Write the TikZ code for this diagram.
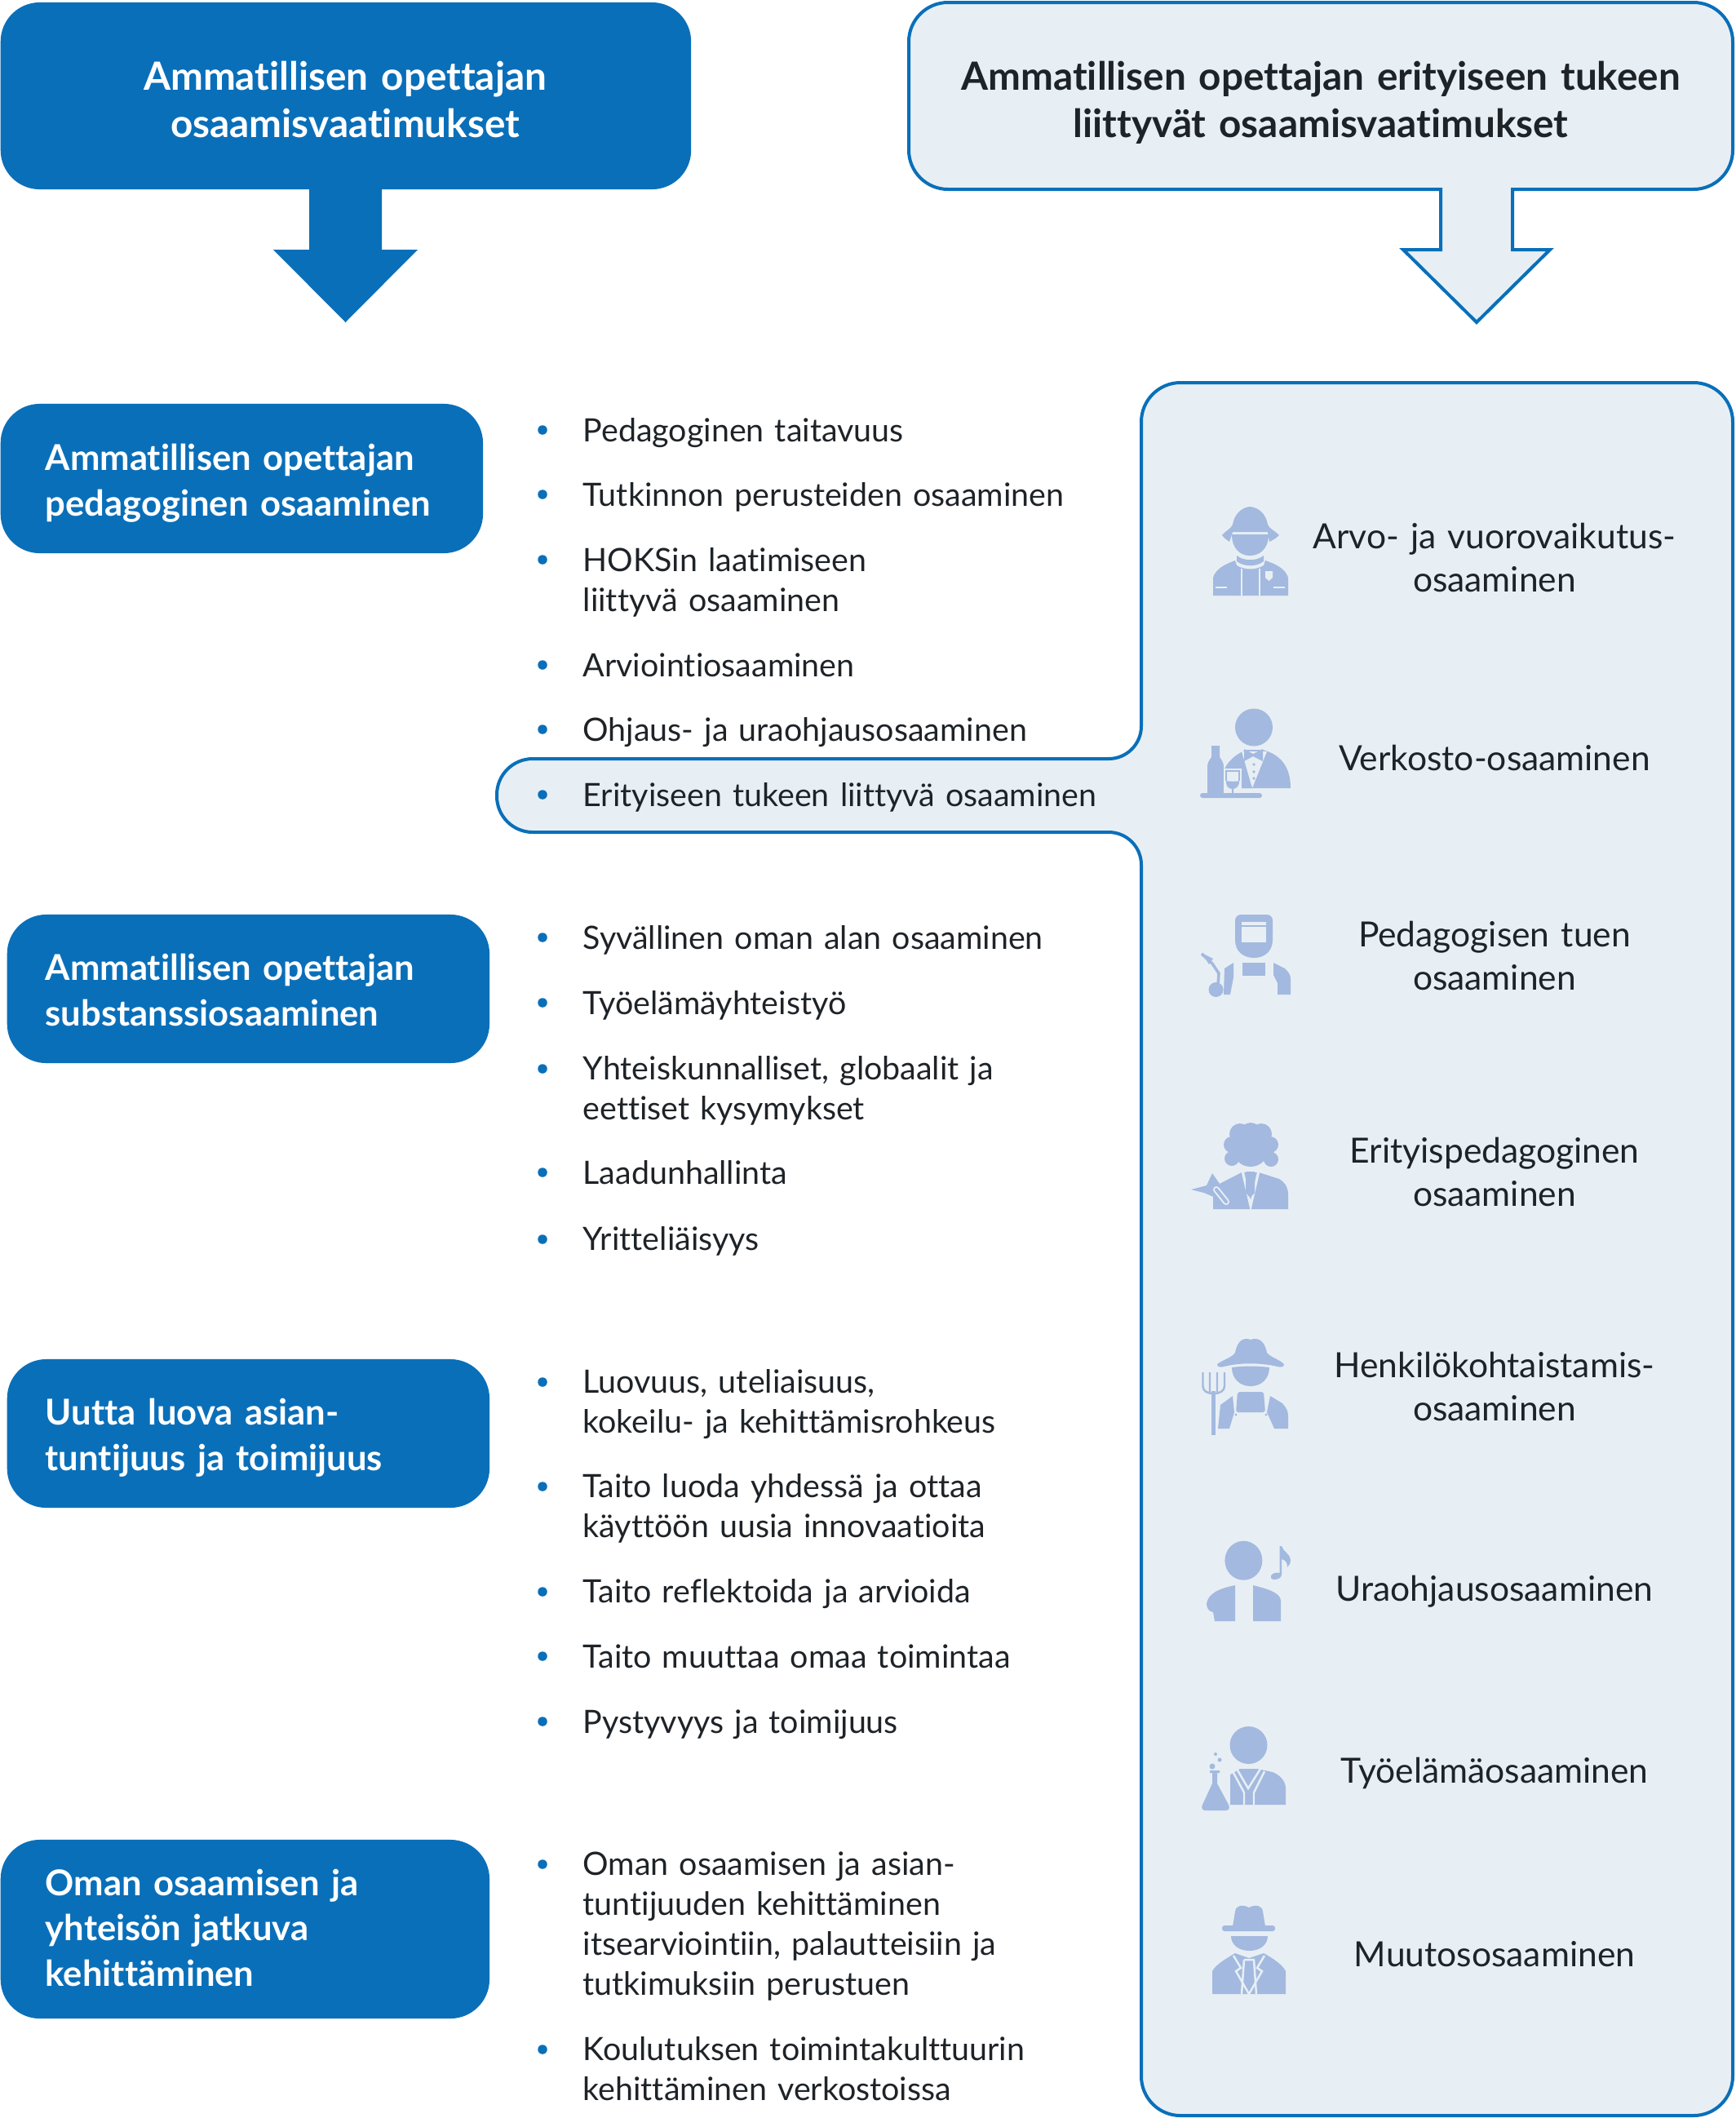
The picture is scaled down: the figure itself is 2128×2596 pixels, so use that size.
\documentclass[tikz,border=0pt]{standalone}
\usepackage{fontspec}
\setmainfont[Ligatures=NoCommon]{Lato}
\usetikzlibrary{positioning}
\definecolor{sininen}{HTML}{0A6FB9}
\definecolor{paneeli}{HTML}{E8EFF4}
\definecolor{ikonisin}{HTML}{A3B9DF}
\definecolor{muste}{HTML}{1E2328}
\tikzset{
  paaotsikko/.style={anchor=base,align=center,inner sep=0pt,text width=10cm,font=\fontsize{13.55}{16.6}\selectfont\bfseries},
  osabox/.style={anchor=west,fill=sininen,rounded corners=.48cm,inner sep=0pt},
  osateksti/.style={anchor=base west,inner sep=0pt,text=white,text width=5.3cm,align=left,font=\fontsize{12.4}{15.8}\selectfont\bfseries},
  bullet/.style={circle,fill=sininen,inner sep=0pt,minimum size=.115cm},
  item/.style={anchor=base west,inner sep=0pt,text=muste,text width=7cm,align=left,font=\fontsize{11.2}{13.95}\selectfont},
  tukilabel/.style={anchor=base,align=center,inner sep=0pt,text=muste,text width=5cm,font=\fontsize{12.1}{15.2}\selectfont},
  kehys/.style={draw=sininen,fill=paneeli,line width=.04cm,line join=miter},
  ikoni/.style={fill=ikonisin},
  ikoniviiva/.style={draw=ikonisin,line width=.7pt},
  rako/.style={draw=paneeli,line width=.7pt}
}
\begin{document}
\begin{tikzpicture}[x=.01cm,y=-.01cm]
  \useasboundingbox (0,0) rectangle (2128,2596);
  \draw[kehys] (1500,3) [rounded corners=.48cm] -- (2124,3) -- (2124,232) [sharp corners] -- (1854,232) -- (1854,306) -- (1900,306) -- (1810,395) -- (1720,306) -- (1766,306) -- (1766,232) [rounded corners=.48cm] -- (1114,232) -- (1114,3) -- cycle;
  \draw[kehys] (1700,469) [rounded corners=.48cm] -- (2124,469) -- (2124,2593) -- (1399,2593) [rounded corners=.4cm] -- (1399,1020) [rounded corners=.44cm] -- (609,1020) -- (609,930) [rounded corners=.4cm] -- (1399,930) [rounded corners=.48cm] -- (1399,469) -- cycle;
  \fill[sininen] (379,200) -- (468,200) -- (468,306) -- (512,306) -- (423.5,395) -- (335,306) -- (379,306) -- cycle;

  \node[osabox,minimum width=8.46cm,minimum height=2.29cm] (paabox) at (0,117.5){};
  \node[paaotsikko,text=white] (paa) at (423,110){Ammatillisen opettajan\\osaamisvaatimukset};
  \node[paaotsikko,text=muste] (tuki) at (1619,110){Ammatillisen opettajan erityiseen tukeen\\liittyvät osaamisvaatimukset};

  \node[osabox,minimum width=5.91cm,minimum height=1.83cm] (pedabox) at (0,586.5){};
  \node[osateksti] (peda) at (55,576.5){Ammatillisen opettajan\\pedagoginen osaaminen};
  \node[osabox,minimum width=5.91cm,minimum height=1.82cm] (subsbox) at (8,1212){};
  \node[osateksti] (subs) at (55,1201.5){Ammatillisen opettajan\\substanssiosaaminen};
  \node[osabox,minimum width=5.91cm,minimum height=1.82cm] (luovabox) at (8,1757){};
  \node[osateksti] (luova) at (55,1746.5){Uutta luova asian-\\tuntijuus ja toimijuus};
  \node[osabox,minimum width=5.99cm,minimum height=2.19cm] (kehbox) at (0,2364.5){};
  \node[osateksti] (keh) at (55,2323){Oman osaamisen ja\\yhteisön jatkuva\\kehittäminen};

  \node[bullet] (b1) at (665,527){};
  \node[item] (i1) at (714,541){Pedagoginen taitavuus};
  \node[bullet] (b2) at (665,606){};
  \node[item] (i2) at (714,620){Tutkinnon perusteiden osaaminen};
  \node[bullet] (b3) at (665,686){};
  \node[item] (i3) at (714,700){HOKSin laatimiseen\\liittyvä osaaminen};
  \node[bullet] (b4) at (665,815){};
  \node[item] (i4) at (714,829){Arviointiosaaminen};
  \node[bullet] (b5) at (665,894){};
  \node[item] (i5) at (714,908){Ohjaus- ja uraohjausosaaminen};
  \node[bullet] (b6) at (665,974){};
  \node[item] (i6) at (714,988){Erityiseen tukeen liittyvä osaaminen};

  \node[bullet] (b7) at (665,1149){};
  \node[item] (i7) at (714,1163){Syvällinen oman alan osaaminen};
  \node[bullet] (b8) at (665,1229){};
  \node[item] (i8) at (714,1243){Työelämäyhteistyö};
  \node[bullet] (b9) at (665,1310){};
  \node[item] (i9) at (714,1323.5){Yhteiskunnalliset, globaalit ja\\eettiset kysymykset};
  \node[bullet] (b10) at (665,1437){};
  \node[item] (i10) at (714,1451){Laadunhallinta};
  \node[bullet] (b11) at (665,1519){};
  \node[item] (i11) at (714,1532.5){Yritteliäisyys};

  \node[bullet] (b12) at (665,1694){};
  \node[item] (i12) at (714,1707.5){Luovuus, uteliaisuus,\\kokeilu- ja kehittämisrohkeus};
  \node[bullet] (b13) at (665,1822){};
  \node[item] (i13) at (714,1835.5){Taito luoda yhdessä ja ottaa\\käyttöön uusia innovaatioita};
  \node[bullet] (b14) at (665,1951){};
  \node[item] (i14) at (714,1964.5){Taito reflektoida ja arvioida};
  \node[bullet] (b15) at (665,2030){};
  \node[item] (i15) at (714,2044){Taito muuttaa omaa toimintaa};
  \node[bullet] (b16) at (665,2110){};
  \node[item] (i16) at (714,2124){Pystyvyys ja toimijuus};

  \node[bullet] (b17) at (665,2285){};
  \node[item] (i17) at (714,2298.5){Oman osaamisen ja asian-\\tuntijuuden kehittäminen\\itsearviointiin, palautteisiin ja\\tutkimuksiin perustuen};
  \node[bullet] (b18) at (665,2512){};
  \node[item] (i18) at (714,2525.5){Koulutuksen toimintakulttuurin\\kehittäminen verkostoissa};

  \node[tukilabel] (arvo) at (1832,672){Arvo- ja vuorovaikutus-\\osaaminen};
  \node[tukilabel] (verkosto) at (1832,944){Verkosto-osaaminen};
  \node[tukilabel] (tuen) at (1832,1160){Pedagogisen tuen\\osaaminen};
  \node[tukilabel] (erpe) at (1832,1425.5){Erityispedagoginen\\osaaminen};
  \node[tukilabel] (henk) at (1832,1688.5){Henkilökohtaistamis-\\osaaminen};
  \node[tukilabel] (urao) at (1832,1962){Uraohjausosaaminen};
  \node[tukilabel] (tyo) at (1832,2185){Työelämäosaaminen};
  \node[tukilabel] (muutos) at (1832,2410){Muutososaaminen};

  \fill[ikoni] (1498,656) .. controls (1503,650) and (1509,648) .. (1511,643) .. controls (1513,630) and (1522,622) .. (1532,621) .. controls (1543,622) and (1552,630) .. (1554,643) .. controls (1556,648) and (1562,650) .. (1568,656) .. controls (1564,660) and (1560,662) .. (1556,664) -- (1554,652) -- (1511,652) -- (1507,664) .. controls (1504,662) and (1501,660) .. (1498,656) -- cycle;
  \fill[ikoni] (1510,655) -- (1555,655) .. controls (1555,672) and (1545,681) .. (1532,681) .. controls (1520,681) and (1510,672) .. (1510,655) -- cycle;
  \fill[ikoni] (1516,681) .. controls (1525,688) and (1540,688) .. (1549,681) -- (1549,688) .. controls (1540,695) and (1525,695) .. (1516,688) -- cycle;
  \fill[ikoni] (1487,730) -- (1487,708) .. controls (1490,698) and (1500,692) .. (1514,687) -- (1516,693) .. controls (1525,699) and (1540,699) .. (1549,693) -- (1551,687) .. controls (1566,692) and (1576,698) .. (1579,708) -- (1579,730) -- cycle;
  \draw[rako] (1522,697) -- (1522,730) (1544,697) -- (1544,730) (1490,720) -- (1504,720) (1561,720) -- (1575,720);
  \fill[paneeli] (1551,700) -- (1560,700) -- (1560,708) -- (1555.5,712) -- (1551,708) -- cycle;

  \fill[ikoni] (1537,891.5) circle (23);
  \fill[ikoni] (1500,966) -- (1500,945) .. controls (1505,932) and (1515,925) .. (1527,919) -- (1548,919) .. controls (1570,925) and (1582,940) .. (1582,966) -- cycle;
  \fill[ikoni] (1485,914) -- (1495,914) -- (1495,928) .. controls (1498,932) and (1500,935) .. (1500,940) -- (1500,972) -- (1480,972) -- (1480,940) .. controls (1480,935) and (1482,932) .. (1485,928) -- cycle;
  \fill[paneeli] (1500,942) rectangle (1522,973) (1522,921) -- (1553,921) -- (1535,966) -- cycle;
  \fill[ikoni,rounded corners=.03cm] (1471,972) rectangle (1547,978);
  \fill[ikoni] (1525,918) -- (1536,924) -- (1548,918) -- (1548,933) -- (1536,927) -- (1525,933) -- cycle;
  \fill[ikoni] (1537,937) circle (1.8) (1537,946) circle (1.8) (1537,954) circle (1.8);
  \fill[ikoni] (1503,957) .. controls (1505,958) and (1518,958) .. (1519,957) .. controls (1519,965) and (1515,966) .. (1512,967) -- (1512,972) -- (1510,972) -- (1510,967) .. controls (1506,966) and (1503,965) .. (1503,957) -- cycle;
  \fill[ikoni] (1522,945) -- (1527,945) -- (1535,966) -- (1522,966) -- cycle;
  \draw[ikoniviiva] (1503,957) -- (1503,945) -- (1519,945) -- (1519,957);

  \fill[ikoni,rounded corners=.07cm] (1514,1121) rectangle (1560,1150);
  \fill[ikoni] (1514,1140) -- (1560,1140) -- (1560,1152) .. controls (1560,1166) and (1550,1174) .. (1537,1174) .. controls (1524,1174) and (1514,1166) .. (1514,1152) -- cycle;
  \fill[paneeli] (1522,1130) rectangle (1552,1155);
  \draw[ikoniviiva] (1522,1135) -- (1552,1135);
  \fill[ikoni] (1523,1180) rectangle (1551,1196);
  \fill[ikoni] (1501,1187) -- (1512,1180) -- (1512,1198) -- (1508,1219) -- (1500,1219) -- cycle;
  \fill[ikoni] (1561,1180) -- (1575,1187) .. controls (1580,1192) and (1582,1195) .. (1582,1200) -- (1582,1219) -- (1566,1219) -- (1566,1205) -- (1561,1195) -- cycle;
  \fill[ikoni] (1490.5,1213) circle (9);
  \draw[ikoniviiva,line width=1pt] (1473,1169) -- (1486,1181) -- (1494,1193) -- (1493,1208);
  \fill[ikoni] (1473,1168) -- (1487,1175) -- (1482,1182) -- cycle;

  \fill[ikoni] (1533,1408) circle (22) (1520,1390) circle (13) (1533,1389) circle (13) (1546,1390) circle (13) (1510,1403) circle (10) (1557,1403) circle (10) (1510,1420) circle (9) (1558,1421) circle (9);
  \fill[ikoni] (1487,1482) -- (1487,1455) -- (1522,1437) -- (1543,1437) -- (1568,1445) .. controls (1576,1450) and (1579,1456) .. (1579,1464) -- (1579,1482) -- cycle;
  \draw[rako,line width=.9pt] (1523,1435) -- (1533,1478) -- (1543,1435);
  \fill[ikoni] (1527,1436) -- (1538,1436) -- (1538,1462) -- (1532.5,1468) -- (1527,1462) -- cycle;
  \fill[paneeli] (1455,1436) -- (1487,1436) -- (1487,1460) -- (1455,1465) -- cycle;
  \fill[ikoni] (1460,1458) -- (1479,1453) -- (1486,1438) -- (1500,1458) -- (1490,1468) -- (1476,1462) -- cycle;
  \draw[paneeli,line width=.08cm,line cap=round] (1491,1458) -- (1503,1473);
  \draw[ikonisin,line width=.04cm,line cap=round] (1491,1458) -- (1503,1473);

  \fill[ikoni] (1492,1672) .. controls (1500,1666) and (1510,1664) .. (1514,1658) .. controls (1517,1642) and (1525,1639) .. (1533,1642) .. controls (1541,1639) and (1550,1642) .. (1553,1658) .. controls (1558,1664) and (1568,1666) .. (1574,1672) .. controls (1574,1676) and (1570,1676) .. (1566,1675) .. controls (1545,1670) and (1520,1670) .. (1500,1675) .. controls (1496,1676) and (1492,1676) .. (1492,1672) -- cycle;
  \fill[ikoni] (1510,1676) .. controls (1525,1674) and (1540,1674) .. (1556,1676) .. controls (1556,1690) and (1546,1699) .. (1533,1699) .. controls (1520,1699) and (1510,1690) .. (1510,1676) -- cycle;
  \fill[ikoni,rounded corners=.03cm] (1517,1706) -- (1549,1706) -- (1551,1731) -- (1515,1731) -- cycle;
  \fill[ikoni] (1493,1751) -- (1496,1722) -- (1511,1711) -- (1513,1731) -- (1507,1751) -- cycle;
  \fill[ikoni] (1557,1711) -- (1572,1720) .. controls (1577,1726) and (1579,1730) .. (1579,1735) -- (1579,1751) -- (1562,1751) -- (1553,1731) -- cycle;
  \fill[ikoni] (1515,1734) circle (1.6) (1552,1734) circle (1.6);
  \fill[ikoni] (1485,1705) rectangle (1490,1759);
  \draw[ikoniviiva] (1474.5,1682) -- (1474.5,1699) .. controls (1474.5,1705) and (1480,1708) .. (1487.5,1708) .. controls (1495,1708) and (1501,1705) .. (1501,1699) -- (1501,1682) (1483,1682) -- (1483,1708) (1492,1682) -- (1492,1708);

  \fill[ikoni] (1524.4,1912.7) ellipse (23 and 24);
  \fill[ikoni] (1514,1943) -- (1514,1987) -- (1489,1987) -- (1487,1976) .. controls (1481,1975) and (1479,1970) .. (1479,1965) .. controls (1482,1952) and (1495,1947) .. (1514,1943) -- cycle;
  \fill[ikoni] (1536,1943) .. controls (1552,1947) and (1570,1952) .. (1570,1962) -- (1570,1987) -- (1536,1987) -- cycle;
  \fill[ikoni] (1568.5,1895) -- (1571,1895) .. controls (1573,1902) and (1582,1905) .. (1582,1912) .. controls (1582,1916) and (1580,1919) .. (1578,1921) .. controls (1578,1914) and (1575,1912) .. (1571,1911) -- (1571,1930) .. controls (1571,1934) and (1566,1936) .. (1562,1936) .. controls (1558,1936) and (1557,1933) .. (1558,1931) .. controls (1560,1928) and (1565,1927) .. (1568.5,1928) -- cycle;

  \fill[ikoni] (1530.5,2139) circle (23);
  \fill[ikoni] (1504,2212) -- (1500,2180) -- (1520,2168) -- (1541,2168) -- (1560,2172) .. controls (1570,2176) and (1576,2184) .. (1576,2192) -- (1576,2212) -- cycle;
  \draw[rako] (1511,2171) -- (1525,2197) -- (1525,2212) (1550,2171) -- (1537,2197) -- (1537,2212) (1516,2168) -- (1530,2192) -- (1545,2168);
  \fill[paneeli] (1480,2168) rectangle (1508,2222);
  \fill[ikoni] (1483,2170) -- (1495,2170) -- (1495,2173) -- (1492,2173) -- (1492,2186) -- (1506,2212) .. controls (1508,2216) and (1506,2219) .. (1503,2219) -- (1477,2219) .. controls (1474,2219) and (1472,2216) .. (1474,2212) -- (1486,2186) -- (1486,2173) -- (1483,2173) -- cycle;
  \fill[ikoni] (1486,2165) circle (3.5) (1495,2157) circle (2.5) (1490,2150) circle (2);

  \fill[ikoni] (1511,2361) -- (1514,2343) .. controls (1515,2335) and (1523,2334) .. (1531,2338) .. controls (1539,2334) and (1547,2335) .. (1548,2343) -- (1551,2361) -- cycle;
  \fill[ikoni,rounded corners=.03cm] (1498,2360) rectangle (1563,2367);
  \fill[ikoni] (1509,2373) -- (1554,2373) .. controls (1554,2384) and (1544,2391) .. (1531.5,2391) .. controls (1519,2391) and (1509,2384) .. (1509,2373) -- cycle;
  \fill[ikoni] (1486,2444) -- (1486,2416) .. controls (1490,2408) and (1504,2400) .. (1514,2394) -- (1531,2400) -- (1549,2394) .. controls (1560,2400) and (1572,2408) .. (1576,2416) -- (1576,2444) -- cycle;
  \draw[rako] (1512,2397) -- (1521,2412) -- (1515,2416) -- (1531,2444) -- (1547,2416) -- (1541,2412) -- (1550,2397) (1525,2402) -- (1537,2402) -- (1540,2444) (1525,2402) -- (1522,2444);
\end{tikzpicture}
\end{document}
